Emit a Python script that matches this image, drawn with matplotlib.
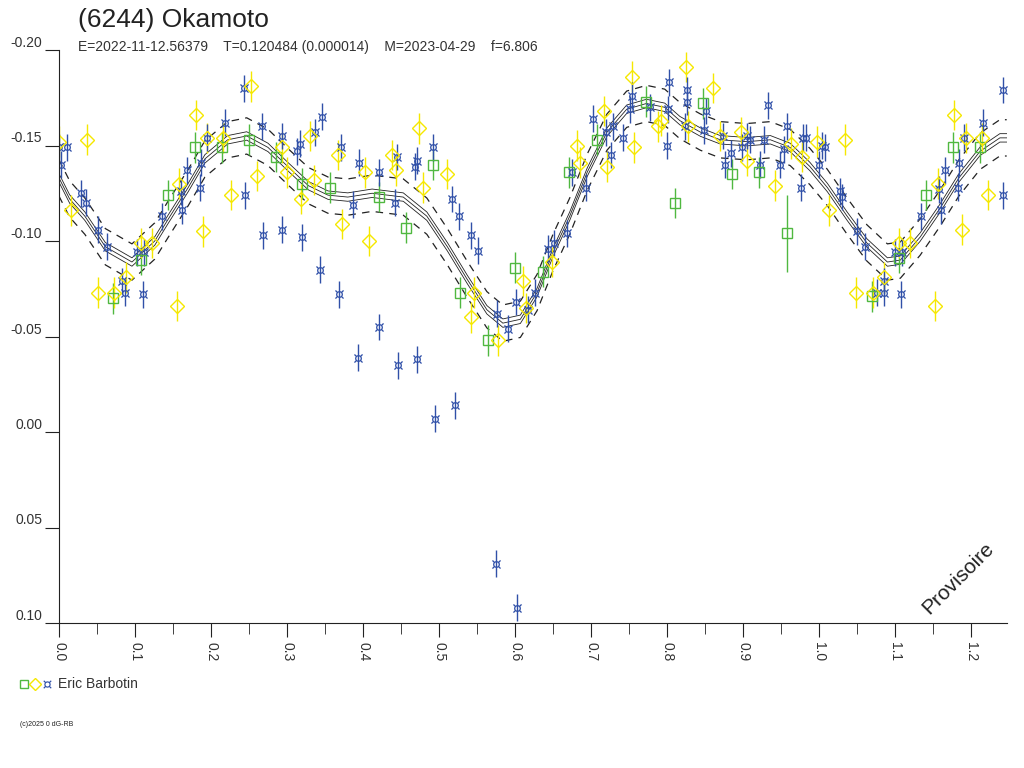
import numpy as np
import matplotlib
matplotlib.use("Agg")
import matplotlib.pyplot as plt

plt.rcParams["font.family"] = ["Liberation Sans", "DejaVu Sans"]

# --- data (phase, reduced magnitude) ---
blue_phase = [0.000, 0.011, 0.003, 0.029, 0.036, 0.051, 0.063, 0.083, 0.087, 0.111, 0.103, 0.112,
              0.136, 0.162, 0.161, 0.168, 0.186, 0.187, 0.195, 0.218, 0.243, 0.245, 0.267, 0.268,
              0.293, 0.293, 0.313, 0.317, 0.320, 0.337, 0.346, 0.343, 0.368, 0.371, 0.395, 0.387,
              0.393, 0.421, 0.445, 0.468, 0.471, 0.492, 0.442, 0.517, 0.526, 0.542, 0.551, 0.421,
              0.446, 0.471, 0.576, 0.591, 0.601, 0.617, 0.626, 0.644, 0.651, 0.669, 0.694, 0.675,
              0.703, 0.720, 0.729, 0.726, 0.742, 0.751, 0.754, 0.778, 0.801, 0.803, 0.800, 0.826,
              0.826, 0.851, 0.824, 0.849, 0.874, 0.884, 0.876, 0.899, 0.905, 0.909, 0.923, 0.928,
              0.933, 0.949, 0.954, 0.958, 0.976, 0.979, 0.983, 1.000, 1.004, 1.008, 1.028, 1.030,
              1.050, 1.061, 1.100, 1.109, 1.076, 1.086, 1.086, 1.108, 1.134, 1.161, 1.158, 1.166,
              1.183, 1.184, 1.191, 1.216, 1.242, 1.242, 0.495, 0.521, 0.575, 0.603]
blue_mag = [-0.149, -0.149, -0.140, -0.125, -0.120, -0.106, -0.097, -0.079, -0.073, -0.072, -0.094, -0.094,
            -0.113, -0.116, -0.126, -0.137, -0.128, -0.141, -0.154, -0.162, -0.180, -0.124, -0.160, -0.103,
            -0.155, -0.106, -0.147, -0.151, -0.102, -0.157, -0.165, -0.085, -0.072, -0.149, -0.141, -0.119,
            -0.039, -0.136, -0.144, -0.139, -0.142, -0.149, -0.120, -0.122, -0.113, -0.103, -0.095, -0.055,
            -0.035, -0.038, -0.062, -0.054, -0.068, -0.064, -0.073, -0.096, -0.099, -0.104, -0.128, -0.136,
            -0.164, -0.157, -0.160, -0.145, -0.154, -0.169, -0.176, -0.170, -0.169, -0.183, -0.150, -0.179,
            -0.173, -0.168, -0.160, -0.158, -0.155, -0.146, -0.140, -0.149, -0.155, -0.153, -0.140, -0.153,
            -0.171, -0.140, -0.148, -0.160, -0.128, -0.154, -0.154, -0.140, -0.150, -0.149, -0.126, -0.123,
            -0.105, -0.097, -0.094, -0.094, -0.073, -0.079, -0.073, -0.072, -0.113, -0.116, -0.127, -0.137,
            -0.128, -0.141, -0.154, -0.162, -0.179, -0.124, -0.007, -0.014, 0.069, 0.092]

yellow_phase = [0.000, 0.037, 0.016, 0.051, 0.072, 0.088, 0.108, 0.122, 0.155, 0.158, 0.180, 0.190,
                0.195, 0.216, 0.226, 0.253, 0.261, 0.293, 0.300, 0.318, 0.330, 0.336, 0.367, 0.372,
                0.403, 0.408, 0.438, 0.443, 0.474, 0.479, 0.511, 0.542, 0.546, 0.578, 0.611, 0.615,
                0.649, 0.682, 0.686, 0.717, 0.721, 0.757, 0.754, 0.792, 0.788, 0.825, 0.861, 0.828,
                0.870, 0.897, 0.905, 0.942, 0.963, 0.978, 0.998, 1.034, 1.013, 1.049, 1.071, 1.086,
                1.105, 1.120, 1.153, 1.157, 1.178, 1.188, 1.194, 1.215, 1.223]
yellow_mag = [-0.152, -0.153, -0.116, -0.073, -0.073, -0.081, -0.099, -0.099, -0.066, -0.130, -0.166, -0.105,
              -0.154, -0.154, -0.124, -0.181, -0.134, -0.149, -0.136, -0.122, -0.155, -0.132, -0.145, -0.109,
              -0.136, -0.100, -0.145, -0.137, -0.159, -0.128, -0.135, -0.060, -0.073, -0.048, -0.079, -0.065,
              -0.089, -0.150, -0.141, -0.168, -0.139, -0.149, -0.186, -0.163, -0.160, -0.191, -0.180, -0.160,
              -0.155, -0.157, -0.142, -0.129, -0.151, -0.144, -0.152, -0.153, -0.116, -0.073, -0.073, -0.081,
              -0.099, -0.099, -0.066, -0.130, -0.166, -0.106, -0.154, -0.154, -0.124]

green_phase = [0.071, 0.108, 0.143, 0.179, 0.215, 0.250, 0.286, 0.320, 0.357, 0.421, 0.457, 0.492,
               0.528, 0.565, 0.600, 0.637, 0.671, 0.708, 0.773, 0.811, 0.848, 0.886, 0.921, 0.958,
               1.070, 1.105, 1.141, 1.176, 1.212]
green_mag = [-0.070, -0.090, -0.124, -0.149, -0.149, -0.153, -0.144, -0.130, -0.128, -0.123, -0.107, -0.140,
             -0.073, -0.048, -0.086, -0.084, -0.136, -0.153, -0.173, -0.120, -0.172, -0.135, -0.136, -0.104,
             -0.071, -0.091, -0.124, -0.149, -0.149]
green_err = [0.008] * len(green_phase)
green_err[23] = 0.020

# fitted light curve
fit_phase = [0.000, 0.014, 0.034, 0.061, 0.096, 0.126, 0.143, 0.170, 0.192, 0.222, 0.247, 0.275,
             0.301, 0.328, 0.354, 0.380, 0.412, 0.453, 0.484, 0.511, 0.537, 0.563, 0.584, 0.607,
             0.629, 0.650, 0.672, 0.695, 0.721, 0.747, 0.773, 0.797, 0.817, 0.844, 0.870, 0.905,
             0.936, 0.962, 0.988, 1.011, 1.037, 1.063, 1.090, 1.107, 1.133, 1.159, 1.184, 1.212,
             1.238, 1.247]
fit_mag = [-0.133, -0.122, -0.113, -0.097, -0.089, -0.100, -0.111, -0.128, -0.143, -0.153, -0.155, -0.149,
           -0.139, -0.129, -0.124, -0.123, -0.125, -0.123, -0.113, -0.097, -0.080, -0.064, -0.057, -0.059,
           -0.073, -0.094, -0.113, -0.136, -0.157, -0.169, -0.172, -0.170, -0.163, -0.157, -0.153, -0.152,
           -0.153, -0.149, -0.139, -0.128, -0.113, -0.099, -0.089, -0.090, -0.102, -0.117, -0.133, -0.147,
           -0.154, -0.154]

y_ticks = [-0.20, -0.15, -0.10, -0.05, 0.00, 0.05, 0.10]
x_ticks = [0.0, 0.1, 0.2, 0.3, 0.4, 0.5, 0.6, 0.7, 0.8, 0.9, 1.0, 1.1, 1.2]

BLUE, YELLOW, GREEN = "#3050a8", "#f5e800", "#50b840"

fig = plt.figure(figsize=(10.24, 7.68), dpi=100)
ax = fig.add_axes([59 / 1024, 1 - 623 / 768, 948 / 1024, 573 / 768])

fp = np.array(fit_phase); fm = np.array(fit_mag)
for d in (-0.0022, 0.0, 0.0022):
    ax.plot(fp, fm + d, color="#222", lw=0.6)
for d in (-0.0095, 0.0095):
    ax.plot(fp, fm + d, color="#222", lw=0.9, ls=(0, (6, 5)))

ax.errorbar(green_phase, green_mag, yerr=green_err, fmt="s", ms=7, mfc="none",
            mec=GREEN, ecolor=GREEN, elinewidth=1, mew=1)
ax.errorbar(yellow_phase, yellow_mag, yerr=0.008, fmt="D", ms=7, mfc="none",
            mec=YELLOW, ecolor=YELLOW, elinewidth=1, mew=1)
ax.errorbar(blue_phase, blue_mag, yerr=0.007, fmt="none", ecolor=BLUE, elinewidth=1)
ax.plot(blue_phase, blue_mag, ls="none", marker="$\u00a4$", ms=6.5, mew=0, color=BLUE)

ax.set_xlim(0, 948 / 760)
ax.set_ylim(0.10, -0.20)
for s in ("top", "right"):
    ax.spines[s].set_visible(False)
for s in ("left", "bottom"):
    ax.spines[s].set_color("#222")
ax.set_yticks(y_ticks)
ax.set_yticklabels([f"{v:.2f}" for v in y_ticks])
ax.set_xticks(x_ticks)
ax.set_xticklabels([f"{v:.1f}" for v in x_ticks], rotation=270)
ax.set_xticks(np.arange(0.05, 1.25, 0.1), minor=True)
ax.tick_params(axis="y", length=10, color="#222", labelsize=10, labelcolor="#333", pad=2)
ax.tick_params(axis="x", which="major", length=10, color="#222", labelsize=10, labelcolor="#333")
ax.tick_params(axis="x", which="minor", length=8, color="#222")
for lab in ax.get_yticklabels():
    lab.set_verticalalignment("bottom")

fig.text(78 / 1024, 1 - 20 / 768, "(6244) Okamoto", fontsize=19, color="#222", va="center")
fig.text(78 / 1024, 1 - 47 / 768,
         "E=2022-11-12.56379    T=0.120484 (0.000014)    M=2023-04-29    f=6.806",
         fontsize=10, color="#333", va="center")
fig.text(958 / 1024, 1 - 578 / 768, "Provisoire", fontsize=15, rotation=45,
         ha="center", va="center", color="#222")

# legend row
fig.lines.append(plt.Line2D([24 / 1024], [1 - 684 / 768], marker="s", ms=6, mfc="none",
                            mec=GREEN, ls="none", transform=fig.transFigure))
fig.lines.append(plt.Line2D([35 / 1024], [1 - 684 / 768], marker="D", ms=6, mfc="none",
                            mec=YELLOW, ls="none", transform=fig.transFigure))
fig.lines.append(plt.Line2D([47 / 1024], [1 - 684 / 768], marker="$\u00a4$", ms=6, mew=0,
                            color=BLUE, ls="none", transform=fig.transFigure))
fig.text(58 / 1024, 1 - 684 / 768, "Eric Barbotin", fontsize=10, color="#333", va="center")
fig.text(20 / 1024, 1 - 725 / 768, "(c)2025 0 dG-RB", fontsize=5, color="#222", va="center")

fig.savefig("out.png", dpi=100)
